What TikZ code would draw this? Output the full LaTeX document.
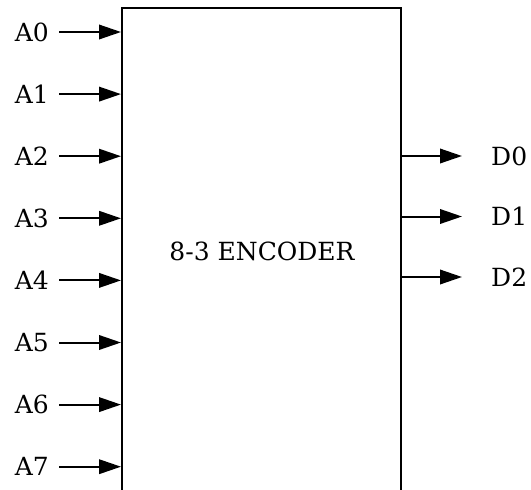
\documentclass[tikz,border=0pt]{standalone}
\usepackage{fontspec}
\setmainfont{DejaVu Serif}
\usetikzlibrary{arrows.meta}
\begin{document}
\begin{tikzpicture}[x=1pt,y=-1pt,
  txt/.style={font=\fontsize{25}{27}\selectfont, text height=18pt, text depth=0pt, inner ysep=0pt},
  inlbl/.style={txt, anchor=east, inner xsep=10pt},
  outlbl/.style={txt, anchor=west, inner xsep=29pt},
  conn/.style={line width=2pt, -{Triangle[length=22pt,width=14.5pt]}},
  blk/.style={draw, line width=2pt, minimum width=279pt, minimum height=492pt, inner sep=0pt}]
\useasboundingbox (0,0) rectangle (531,490);
\node[blk] (enc) at (261.5,254) {};
\node[txt] (title) at (262,251) {8-3 ENCODER};
\foreach \i in {0,...,7}{
  \node[inlbl] (a\i) at (59,{32+62.1*\i}) {A\i};
  \draw[conn] (a\i.east) -- (a\i.east -| enc.west);
}
\foreach \i/\yy in {0/156,1/216.5,2/277}{
  \node[outlbl] (d\i) at (462,\yy) {D\i};
  \draw[conn] (d\i.west -| enc.east) -- (d\i.west);
}
\end{tikzpicture}
\end{document}
